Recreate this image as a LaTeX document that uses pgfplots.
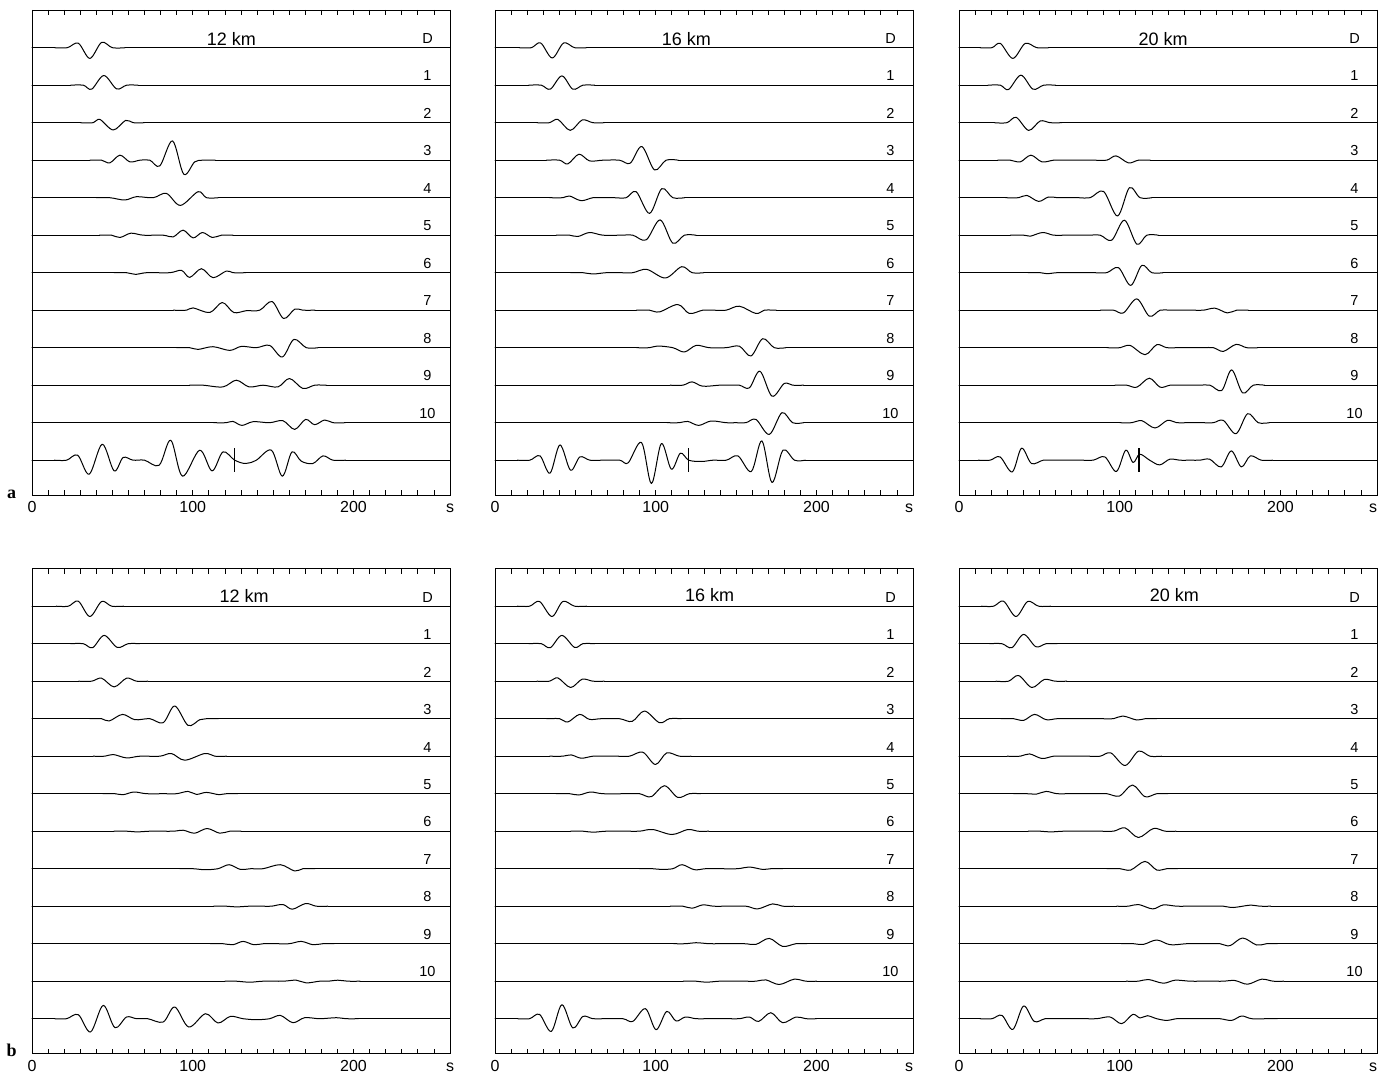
\documentclass[border=0pt]{standalone}
\usepackage{pgfplots}
\pgfplotsset{compat=1.18}
\usepackage{fontspec}
\setmainfont{Liberation Sans}
\newfontfamily\serifbold{Liberation Serif}

\pgfplotsset{
  seis/.style={
    scale only axis, width=418pt, height=485pt,
    xmin=0, xmax=260, ymin=-447.3, ymax=37.7,
    xtick={0,100,200,260}, xticklabels={0,100,200,{s\vphantom{0}}},
    minor xtick={10,20,...,250},
    ytick=\empty,
    tick align=inside,
    major tick length=5pt, minor tick length=5pt,
    every tick/.style={black, line width=0.8pt},
    axis line style={line width=0.9pt},
    x tick label style={font=\fontsize{16}{17}\selectfont, yshift=-3pt},
    /pgf/number format/assume math mode=true,
    clip=false,
    anchor=south west,
  },
  sright/.style={xticklabels={0,100,200,{\makebox[0pt][r]{s}\vphantom{0}}}},
  trc/.style={black, line width=1pt, smooth, tension=0.55, no markers, line cap=round, line join=round},
  base/.style={black, line width=1pt, no markers, line cap=round},
}
\tikzset{
  lab/.style={anchor=south, inner sep=0pt, font=\fontsize{14.5}{15}\selectfont},
  ttl/.style={anchor=south, inner sep=0pt, font=\fontsize{18}{19}\selectfont},
}
% #1 trace index, #2 first x, #3 last x, #4 wavelet samples (t, amplitude)
\newcommand\seis[4]{%
  \addplot[base] table[header=false,row sep=\\,y expr=\thisrowno{1}-37.5*#1]{0 0\\ #2 0\\};
  \addplot[base] table[header=false,row sep=\\,y expr=\thisrowno{1}-37.5*#1]{#3 0\\ 260 0\\};
  \addplot[trc] table[header=false,row sep=\\,y expr=\thisrowno{1}-37.5*#1]{#4\\};}
\newcommand\labels{%
  \node[lab] at (axis cs:246,4) {D};
  \node[lab] at (axis cs:246,-33.5) {1};
  \node[lab] at (axis cs:246,-71) {2};
  \node[lab] at (axis cs:246,-108.5) {3};
  \node[lab] at (axis cs:246,-146) {4};
  \node[lab] at (axis cs:246,-183.5) {5};
  \node[lab] at (axis cs:246,-221) {6};
  \node[lab] at (axis cs:246,-258.5) {7};
  \node[lab] at (axis cs:246,-296) {8};
  \node[lab] at (axis cs:246,-333.5) {9};
  \node[lab] at (axis cs:246,-371) {10};
}

\begin{document}
\begin{tikzpicture}
\useasboundingbox (0pt,0pt) rectangle (1379pt,-1075pt);

% ================= row a, 12 km =================
\begin{axis}[seis, at={(32pt,-495pt)}]
\seis{0}{14}{58}{14 0\\ 22 0\\ 28.8 4.5\\ 36 -10.7\\ 43.3 5.3\\ 50 0\\ 58 0}
\seis{1}{24}{66}{24 0\\ 31.9 0\\ 37.1 -4\\ 44.7 9.7\\ 52.6 -3.7\\ 58.8 0\\ 66 0}
\seis{2}{30}{70}{30 0\\ 38.1 0\\ 42.2 3.3\\ 50.5 -7.3\\ 58.2 2.3\\ 62.9 0\\ 70 0}
\seis{3}{36}{114}{36 0\\ 43.3 0\\ 48.4 -2.7\\ 54.7 5\\ 60.9 -1.7\\ 67.1 0\\ 73.3 0\\ 79.5 -5.7\\ 87.4 19.3\\ 94.4 -14\\ 101.2 -1.7\\ 106.4 0\\ 114 0}
\seis{4}{40}{116}{40 0\\ 48.4 0\\ 57.8 -2.3\\ 65 1\\ 75.4 0\\ 83.6 4.3\\ 92.3 -7.7\\ 103.3 6\\ 108.5 0\\ 116 0}
\seis{5}{42}{125}{42 0\\ 49.5 0\\ 54.7 -2.3\\ 61.5 2\\ 69.2 0\\ 81.6 0\\ 87.8 -1.7\\ 94 5\\ 100.2 -2.7\\ 106 2.7\\ 112.2 -2.3\\ 117.8 0\\ 125 0}
\seis{6}{51}{133}{51 0\\ 58.8 0\\ 64.6 -1.7\\ 71.2 0\\ 85.7 0\\ 93 2.3\\ 98.1 -4.7\\ 105.4 4\\ 112.6 -5\\ 120.9 1.7\\ 125 0\\ 133 0}
\seis{7}{88}{176}{88 0\\ 96.1 0\\ 100.2 2.3\\ 110.6 -2.3\\ 118.4 7.7\\ 125.5 -2.3\\ 133.3 -0.5\\ 141.6 0\\ 149.3 8.7\\ 156.5 -8.3\\ 163.4 1\\ 168.5 0\\ 176 0}
\seis{8}{90}{178}{90 0\\ 98.1 0\\ 103.3 -1.7\\ 112.6 1\\ 123 -2.7\\ 130.2 1.3\\ 139.5 0\\ 147.8 2.3\\ 155.7 -9.3\\ 162.9 8.3\\ 170.6 0\\ 178 0}
\seis{9}{98}{183}{98 0\\ 106.4 0\\ 118.8 -1.7\\ 127.1 5\\ 135 -1.7\\ 143.7 0\\ 153 -1.7\\ 160.2 6.7\\ 168.5 -3.3\\ 175.8 0\\ 183 0}
\seis{10}{113}{195}{113 0\\ 120.9 0\\ 125 1.3\\ 130.6 -2.7\\ 137.5 1\\ 147.8 0\\ 156.1 2\\ 163.4 -6.7\\ 170.2 3.3\\ 175.8 -2\\ 182 2.7\\ 187.2 0\\ 195 0}
\seis{11}{14}{195}{14 0\\ 21.5 0\\ 28.4 5\\ 35.6 -14\\ 43.7 16\\ 51.1 -10.7\\ 56.7 2.7\\ 62.9 0\\ 70 0\\ 79.1 -5\\ 86.3 20\\ 93.6 -16\\ 104.3 10\\ 112 -10.7\\ 118.8 8.3\\ 126.1 0\\ 132.9 -3.3\\ 139.5 0\\ 148.9 10\\ 155.7 -16\\ 161.7 8.3\\ 167.5 -1\\ 174.7 -3.3\\ 181 4.3\\ 187.2 0\\ 195 0}
\addplot[black, line width=1.3pt] coordinates {(126,-400.5) (126,-424.5)};
\labels
\node[ttl] at (axis cs:124,2) {12 km};
\end{axis}

% ================= row a, 16 km =================
\begin{axis}[seis, sright, at={(495pt,-495pt)}]
\seis{0}{15}{57}{15 0\\ 22.6 0\\ 28.4 4.7\\ 35.6 -10.3\\ 42.7 4.7\\ 49.5 0\\ 57 0}
\seis{1}{21}{62}{21 0\\ 28.8 0\\ 34.4 -4\\ 41.6 9.3\\ 48.4 -4\\ 54.7 0\\ 62 0}
\seis{2}{26}{68}{26 0\\ 34 0\\ 39.1 3.3\\ 46.8 -7.7\\ 54.2 2.7\\ 60.9 0\\ 68 0}
\seis{3}{32}{114}{32 0\\ 40.2 0\\ 45.3 -3.7\\ 52.2 6\\ 58.8 -0.7\\ 67.1 0\\ 77.4 0\\ 84.1 -3\\ 91.3 13.7\\ 99.2 -9.7\\ 106.4 0\\ 114 0}
\seis{4}{34}{118}{34 0\\ 42.2 0\\ 46.4 1.7\\ 53.6 -3\\ 60.9 0\\ 68 0\\ 74 0\\ 81.6 0\\ 87.8 6\\ 96.1 -15.7\\ 103.7 9\\ 110.6 0\\ 118 0}
\seis{5}{38}{125}{38 0\\ 46.4 0\\ 51.6 -1.3\\ 58.8 2.7\\ 67.1 0\\ 78 0\\ 85.7 0\\ 94 -4.7\\ 102.7 15.3\\ 110.6 -8\\ 117.8 0\\ 125 0}
\seis{6}{47}{130}{47 0\\ 54.7 0\\ 60.9 -1.3\\ 69.2 0\\ 78 0\\ 85.7 0\\ 94.4 3.3\\ 106 -5.3\\ 116.1 6\\ 122.6 0\\ 130 0}
\seis{7}{88}{175}{88 0\\ 96.1 0\\ 102.3 -1.7\\ 113.7 5.7\\ 120.9 -3.3\\ 129.2 0\\ 136 0\\ 143.7 0\\ 152 4\\ 162.3 -3.3\\ 167.5 0\\ 175 0}
\seis{8}{88}{181}{88 0\\ 96.1 0\\ 101.2 1.7\\ 110.6 0\\ 117.8 -4.3\\ 125.1 2.3\\ 133.3 0\\ 143.7 0\\ 152 1.5\\ 159.2 -8.3\\ 166.5 9\\ 173.7 0\\ 181 0}
\seis{9}{109}{192}{109 0\\ 116.8 0\\ 122.6 3.3\\ 129.2 -1\\ 139.5 0\\ 145 0\\ 152 0\\ 158.2 -2.7\\ 164.8 14\\ 172.3 -11\\ 179.9 1.7\\ 185.1 0\\ 192 0}
\seis{10}{107}{192}{107 0\\ 114.7 0\\ 119.9 1.3\\ 126.7 -2.7\\ 134.4 1.7\\ 143.7 0\\ 150 0\\ 156.1 0\\ 162.3 3.3\\ 170.6 -11.7\\ 178.5 10\\ 185.1 0\\ 192 0}
\seis{11}{14}{193}{14 0\\ 21.7 0\\ 28 4.3\\ 34.2 -13\\ 40.4 15.3\\ 47 -10\\ 52.8 3.3\\ 59 0\\ 67 0\\ 77.6 0\\ 82.8 -2.7\\ 91.1 17.7\\ 97.3 -23.3\\ 103.5 16.7\\ 109.7 -9\\ 115.3 7\\ 120.5 0\\ 128.4 -1.3\\ 135.6 0\\ 143.9 0\\ 151.1 4.3\\ 159.4 -11.3\\ 166 19.3\\ 172.3 -22.3\\ 179.1 10\\ 186.3 0\\ 193 0}
\addplot[black, line width=1.3pt] coordinates {(120.5,-400.5) (120.5,-424.5)};
\labels
\node[ttl] at (axis cs:119,2) {16 km};
\end{axis}

% ================= row a, 20 km =================
\begin{axis}[seis, sright, at={(959pt,-495pt)}]
\seis{0}{13}{56}{13 0\\ 20.5 0\\ 25.7 4.3\\ 33.5 -10.7\\ 41.2 4.3\\ 48.4 0\\ 56 0}
\seis{1}{18}{60}{18 0\\ 25.7 0\\ 30.8 -4.3\\ 38.5 10\\ 46 -4\\ 52.6 0\\ 60 0}
\seis{2}{22}{64}{22 0\\ 29.8 0\\ 35.6 5.3\\ 43.3 -7.7\\ 50.5 1.7\\ 56.7 0\\ 64 0}
\seis{3}{24}{119}{24 0\\ 31.9 0\\ 38.1 -1.7\\ 44.7 5\\ 51.6 -1.7\\ 58.8 0\\ 66 0\\ 84 0\\ 91.9 0\\ 97.7 4.3\\ 105.4 -2.7\\ 111.6 0\\ 119 0}
\seis{4}{29}{120}{29 0\\ 37.1 0\\ 42.2 2.3\\ 49.5 -3.7\\ 55.7 0.7\\ 62 0\\ 74 0\\ 81.6 0\\ 89.9 6.3\\ 98.6 -18.3\\ 106 10\\ 112.6 0\\ 120 0}
\seis{5}{32}{124}{32 0\\ 40.2 0\\ 44.3 -1\\ 52 2.7\\ 58.8 0\\ 66 0\\ 80 0\\ 87.8 0\\ 95 -5\\ 102.9 15\\ 110.6 -9\\ 116.8 0\\ 124 0}
\seis{6}{43}{127}{43 0\\ 50.5 0\\ 54.7 -1\\ 60.9 0\\ 68 0\\ 84 0\\ 91.9 0\\ 99.2 5\\ 106.8 -12.7\\ 113.7 7.3\\ 119.9 0\\ 127 0}
\seis{7}{88}{180}{88 0\\ 96.1 0\\ 102.3 -2.7\\ 110.6 11.3\\ 118.4 -6\\ 125.1 0\\ 132 0\\ 145 0\\ 152 0\\ 159.2 2\\ 166.9 -2.7\\ 172.7 0\\ 180 0}
\seis{8}{92}{186}{92 0\\ 100.2 0\\ 106.4 2.3\\ 115.7 -7\\ 123 3\\ 129.2 0\\ 136 0\\ 151 0\\ 158.2 0\\ 164.4 -3.7\\ 172.3 3.3\\ 178.9 0\\ 186 0}
\seis{9}{97}{190}{97 0\\ 104.3 0\\ 110.6 -2\\ 118.4 7\\ 125.1 -2\\ 131.3 0\\ 138 0\\ 149 0\\ 156.1 0\\ 163.4 -5.3\\ 169.6 15.3\\ 176.4 -7.7\\ 183 0\\ 190 0}
\seis{10}{100}{193}{100 0\\ 107.5 0\\ 113.7 2\\ 121.9 -5.3\\ 129.6 2.3\\ 135.4 0\\ 142 0\\ 151 0\\ 158.2 0\\ 164.4 2.3\\ 172.3 -11\\ 179.5 9\\ 186.1 0\\ 193 0}
\seis{11}{12}{195}{12 0\\ 19.3 0\\ 25.5 3.3\\ 33.1 -11.7\\ 38.9 12\\ 45.1 -3.3\\ 52.4 0\\ 60 0\\ 76 0\\ 83.4 0\\ 90.7 3.3\\ 97.9 -11.3\\ 103.7 10\\ 108.3 -2.3\\ 112.4 6\\ 118.6 0\\ 124.8 -4.7\\ 131.1 1\\ 137.3 0\\ 144 0\\ 149.7 0\\ 155.9 1\\ 163.1 -6.7\\ 169.4 9.3\\ 175.6 -6.7\\ 181.2 4.3\\ 188 0\\ 195 0}
\addplot[black, line width=1.3pt] coordinates {(112,-400.5) (112,-424.5)};
\labels
\node[ttl] at (axis cs:127,2) {20 km};
\end{axis}

% ================= row b, 12 km =================
\begin{axis}[seis, at={(32pt,-1053.5pt)}]
\seis{0}{15}{57}{15 0\\ 22.6 0\\ 28.8 5\\ 36 -10.3\\ 43.3 4.7\\ 49.5 0\\ 57 0}
\seis{1}{24}{67}{24 0\\ 31.9 0\\ 37.7 -4\\ 44.9 8.3\\ 53 -3.7\\ 59.8 0\\ 67 0}
\seis{2}{29}{72}{29 0\\ 37.1 0\\ 43.3 3\\ 51.1 -5.7\\ 58.8 3\\ 65 0\\ 72 0}
\seis{3}{36}{116}{36 0\\ 43.3 0\\ 48 -2.3\\ 56.3 4.3\\ 64 -1\\ 73.3 0\\ 81.6 -4\\ 88.8 12.7\\ 97.1 -6.7\\ 104.3 -1\\ 108.5 0\\ 116 0}
\seis{4}{38}{121}{38 0\\ 45.3 0\\ 50.5 1.7\\ 58.8 -1.7\\ 67.1 0\\ 79.5 0\\ 86.7 2.7\\ 95 -4\\ 107.5 2.7\\ 113.7 0\\ 121 0}
\seis{5}{44}{128}{44 0\\ 51.6 0\\ 56.7 -1\\ 63.4 1.7\\ 71.2 0\\ 82 0\\ 89.9 0\\ 97.1 2.3\\ 102.3 -0.7\\ 108.5 1.3\\ 116.4 -1\\ 120.9 0\\ 128 0}
\seis{6}{51}{130}{51 0\\ 58.8 0\\ 66 -0.7\\ 73.3 0\\ 87.8 0\\ 94 1\\ 101.2 -2\\ 108.9 2.7\\ 116.8 -2\\ 123 0\\ 130 0}
\seis{7}{92}{176}{92 0\\ 100.2 0\\ 107.5 -1\\ 115.7 0\\ 122.6 4\\ 129.6 -0.7\\ 136 0\\ 143.7 0\\ 154.5 4\\ 163.4 -2.3\\ 168.5 0\\ 176 0}
\seis{8}{113}{184}{113 0\\ 120.9 0\\ 127.1 -0.7\\ 135 0\\ 143.7 0\\ 149 0\\ 156.1 1.7\\ 161.9 -3\\ 170.2 2.7\\ 176.8 0\\ 184 0}
\seis{9}{111}{188}{111 0\\ 118.8 0\\ 125 -1\\ 131.3 2.3\\ 137.9 -1\\ 144 0\\ 152 0\\ 160 0\\ 167.5 2.3\\ 174.7 -1\\ 180.9 0\\ 188 0}
\seis{10}{120}{204}{120 0\\ 127.1 0\\ 135.4 -1\\ 143.7 0\\ 156 0\\ 164.4 1\\ 170.6 -1.7\\ 178.9 0\\ 184 0\\ 190.3 1\\ 196.5 0\\ 204 0}
\seis{11}{14}{203}{14 0\\ 21.5 0\\ 28.8 4\\ 36.4 -13.3\\ 44.3 13.3\\ 51.6 -9\\ 58.8 1.7\\ 65 0\\ 72 0\\ 81.6 -3.3\\ 88.8 11.7\\ 97.5 -8.3\\ 107.9 5\\ 115.7 -4.3\\ 123.4 2.3\\ 131.3 0\\ 139.5 -1\\ 147.8 0\\ 154.5 3.3\\ 162.3 -4\\ 169.6 1\\ 178.9 0\\ 189.2 1\\ 195.4 0\\ 203 0}
\labels
\node[ttl] at (axis cs:132,4) {12 km};
\end{axis}

% ================= row b, 16 km =================
\begin{axis}[seis, sright, at={(495pt,-1053.5pt)}]
\seis{0}{14}{57}{14 0\\ 21.5 0\\ 27.7 4.7\\ 35.4 -10.3\\ 42.2 4.7\\ 49.5 0\\ 57 0}
\seis{1}{21}{62}{21 0\\ 28.8 0\\ 34.4 -4\\ 41.6 8.3\\ 49.5 -3.7\\ 54.7 0\\ 62 0}
\seis{2}{26}{68}{26 0\\ 34 0\\ 39.1 3.3\\ 47 -6.3\\ 54.2 2\\ 60.9 0\\ 68 0}
\seis{3}{32}{116}{32 0\\ 40.2 0\\ 45.3 -3.3\\ 52.6 4.3\\ 58.8 -0.7\\ 66 0\\ 77.4 0\\ 85.3 -2.7\\ 93 7.7\\ 102.3 -4\\ 108.5 0\\ 116 0}
\seis{4}{34}{122}{34 0\\ 42.2 0\\ 47.4 1.3\\ 53.6 -2\\ 60.9 0\\ 68 0\\ 76 0\\ 83.6 0\\ 91.9 4\\ 99.8 -8.3\\ 106.8 3.3\\ 114.7 0\\ 122 0}
\seis{5}{38}{128}{38 0\\ 46.4 0\\ 52.2 -1.3\\ 59.4 1.7\\ 67.1 0\\ 82 0\\ 89.9 0\\ 97.1 -3\\ 105.4 8\\ 113.7 -3.7\\ 120.9 0\\ 128 0}
\seis{6}{47}{133}{47 0\\ 54.7 0\\ 60.9 -1\\ 69.2 0\\ 82 0\\ 89.9 0\\ 98.1 1.7\\ 110.1 -3.3\\ 119.9 1.7\\ 126.1 0\\ 133 0}
\seis{7}{90}{179}{90 0\\ 98.1 0\\ 103.3 -0.7\\ 110.6 0\\ 116.4 4\\ 124 -1\\ 131 0\\ 139.5 0\\ 151 0\\ 158.2 1.7\\ 166.5 -0.7\\ 171.6 0\\ 179 0}
\seis{8}{109}{186}{109 0\\ 116.8 0\\ 122.6 -2\\ 129.2 1.3\\ 136 0\\ 143.7 0\\ 156.1 0\\ 163.4 -2.7\\ 172.7 2.3\\ 178.9 0\\ 186 0}
\seis{9}{111}{194}{111 0\\ 118.8 0\\ 125 1\\ 133.3 0\\ 140 0\\ 155 0\\ 162.3 -0.7\\ 170.6 5.3\\ 178.9 -2.7\\ 187.2 0\\ 194 0}
\seis{10}{117}{200}{117 0\\ 125 0\\ 131.3 -1\\ 139.5 0\\ 147 0\\ 155 0\\ 162.3 0\\ 168.5 1.3\\ 176.8 -3.3\\ 186.1 2\\ 193.4 0\\ 200 0}
\seis{11}{14}{200}{14 0\\ 21.5 0\\ 27.7 4.3\\ 35 -12.7\\ 41.6 14\\ 48.4 -9.3\\ 54.7 2.3\\ 60.9 0\\ 68 0\\ 79.5 0\\ 85.7 -2.7\\ 93.6 10\\ 100.2 -11\\ 106.8 7.3\\ 112.6 -2.3\\ 118.4 1.7\\ 125 0\\ 132 0\\ 145 0\\ 152 0\\ 158.2 1.7\\ 164 -2.7\\ 171.6 6\\ 178.9 -4\\ 187.2 1.7\\ 193.4 0\\ 200 0}
\labels
\node[ttl] at (axis cs:133.5,4) {16 km};
\end{axis}

% ================= row b, 20 km =================
\begin{axis}[seis, sright, at={(959pt,-1053.5pt)}]
\seis{0}{14}{57}{14 0\\ 21.5 0\\ 27.7 5\\ 35.4 -10.3\\ 42.7 4.7\\ 49.5 0\\ 57 0}
\seis{1}{19}{61}{19 0\\ 26.7 0\\ 32.9 -4\\ 40.2 9.3\\ 47.8 -3\\ 54.2 0\\ 61 0}
\seis{2}{23}{67}{23 0\\ 30.8 0\\ 37.1 5.7\\ 45.3 -6.3\\ 53 1.7\\ 59.8 0\\ 67 0}
\seis{3}{26}{123}{26 0\\ 34 0\\ 40.2 -1.7\\ 47 4.3\\ 54.2 -1\\ 60.9 0\\ 68 0\\ 88 0\\ 96.1 0\\ 101.9 2.7\\ 110.6 -1.3\\ 115.7 0\\ 123 0}
\seis{4}{30}{126}{30 0\\ 38.1 0\\ 43.9 2.3\\ 51.6 -2.3\\ 58.8 0\\ 66 0\\ 80 0\\ 87.8 0\\ 94.4 3.3\\ 103.3 -9.3\\ 111.6 5\\ 118.8 0\\ 126 0}
\seis{5}{34}{130}{34 0\\ 42.2 0\\ 48.4 -0.3\\ 54.2 2.3\\ 60.9 0\\ 68 0\\ 84 0\\ 91.9 0\\ 99.8 -2.3\\ 107.9 8.7\\ 115.7 -3\\ 123 0\\ 130 0}
\seis{6}{43}{135}{43 0\\ 50.5 0\\ 56.7 -0.7\\ 65 0\\ 72 0\\ 88 0\\ 96.1 0\\ 103.3 3.3\\ 111.6 -6.3\\ 120.9 2.7\\ 128.2 0\\ 135 0}
\seis{7}{92}{136}{92 0\\ 100.2 0\\ 106.8 -1.3\\ 115.7 7.3\\ 123 -1.3\\ 129.2 0\\ 136 0}
\seis{8}{98}{194}{98 0\\ 105.4 0\\ 111.6 1.7\\ 120.5 -2.7\\ 127.1 1.3\\ 135.4 0\\ 142 0\\ 157 0\\ 164.4 0\\ 170.6 -1.3\\ 180.9 1\\ 187.2 0\\ 194 0}
\seis{9}{101}{198}{101 0\\ 108.5 0\\ 114.7 -0.7\\ 123 3.7\\ 131.3 -1\\ 141.6 0\\ 148 0\\ 155 0\\ 162.3 0\\ 168.5 -2\\ 176.4 5.7\\ 185.1 -1.3\\ 191.3 0\\ 198 0}
\seis{10}{104}{202}{104 0\\ 111.6 0\\ 117.8 1.7\\ 127.1 -2\\ 134.4 1\\ 143.7 0\\ 150 0\\ 157 0\\ 164.4 0\\ 171.6 0.7\\ 179.5 -3\\ 188.2 2\\ 195.4 0\\ 202 0}
\seis{11}{13}{198}{13 0\\ 20.5 0\\ 26.7 3.3\\ 33.5 -10.7\\ 40.2 12.7\\ 46.8 -2.7\\ 53.6 0\\ 61 0\\ 78 0\\ 85.7 0\\ 94 1.7\\ 101.2 -5\\ 108.1 4.3\\ 112.6 0.7\\ 117.2 3\\ 123 0\\ 129.2 -1.7\\ 135.4 0\\ 142 0\\ 155 0\\ 162.3 0\\ 169.6 -1.7\\ 175.8 2.7\\ 182 0\\ 191.3 0\\ 198 0}
\labels
\node[ttl] at (axis cs:134,4) {20 km};
\end{axis}

\node[anchor=base, inner sep=0pt, font=\serifbold\bfseries\fontsize{18}{18}\selectfont] at (11.7pt,-498pt) {a};
\node[anchor=base, inner sep=0pt, font=\serifbold\bfseries\fontsize{18}{18}\selectfont] at (11.7pt,-1056pt) {b};
\end{tikzpicture}
\end{document}
